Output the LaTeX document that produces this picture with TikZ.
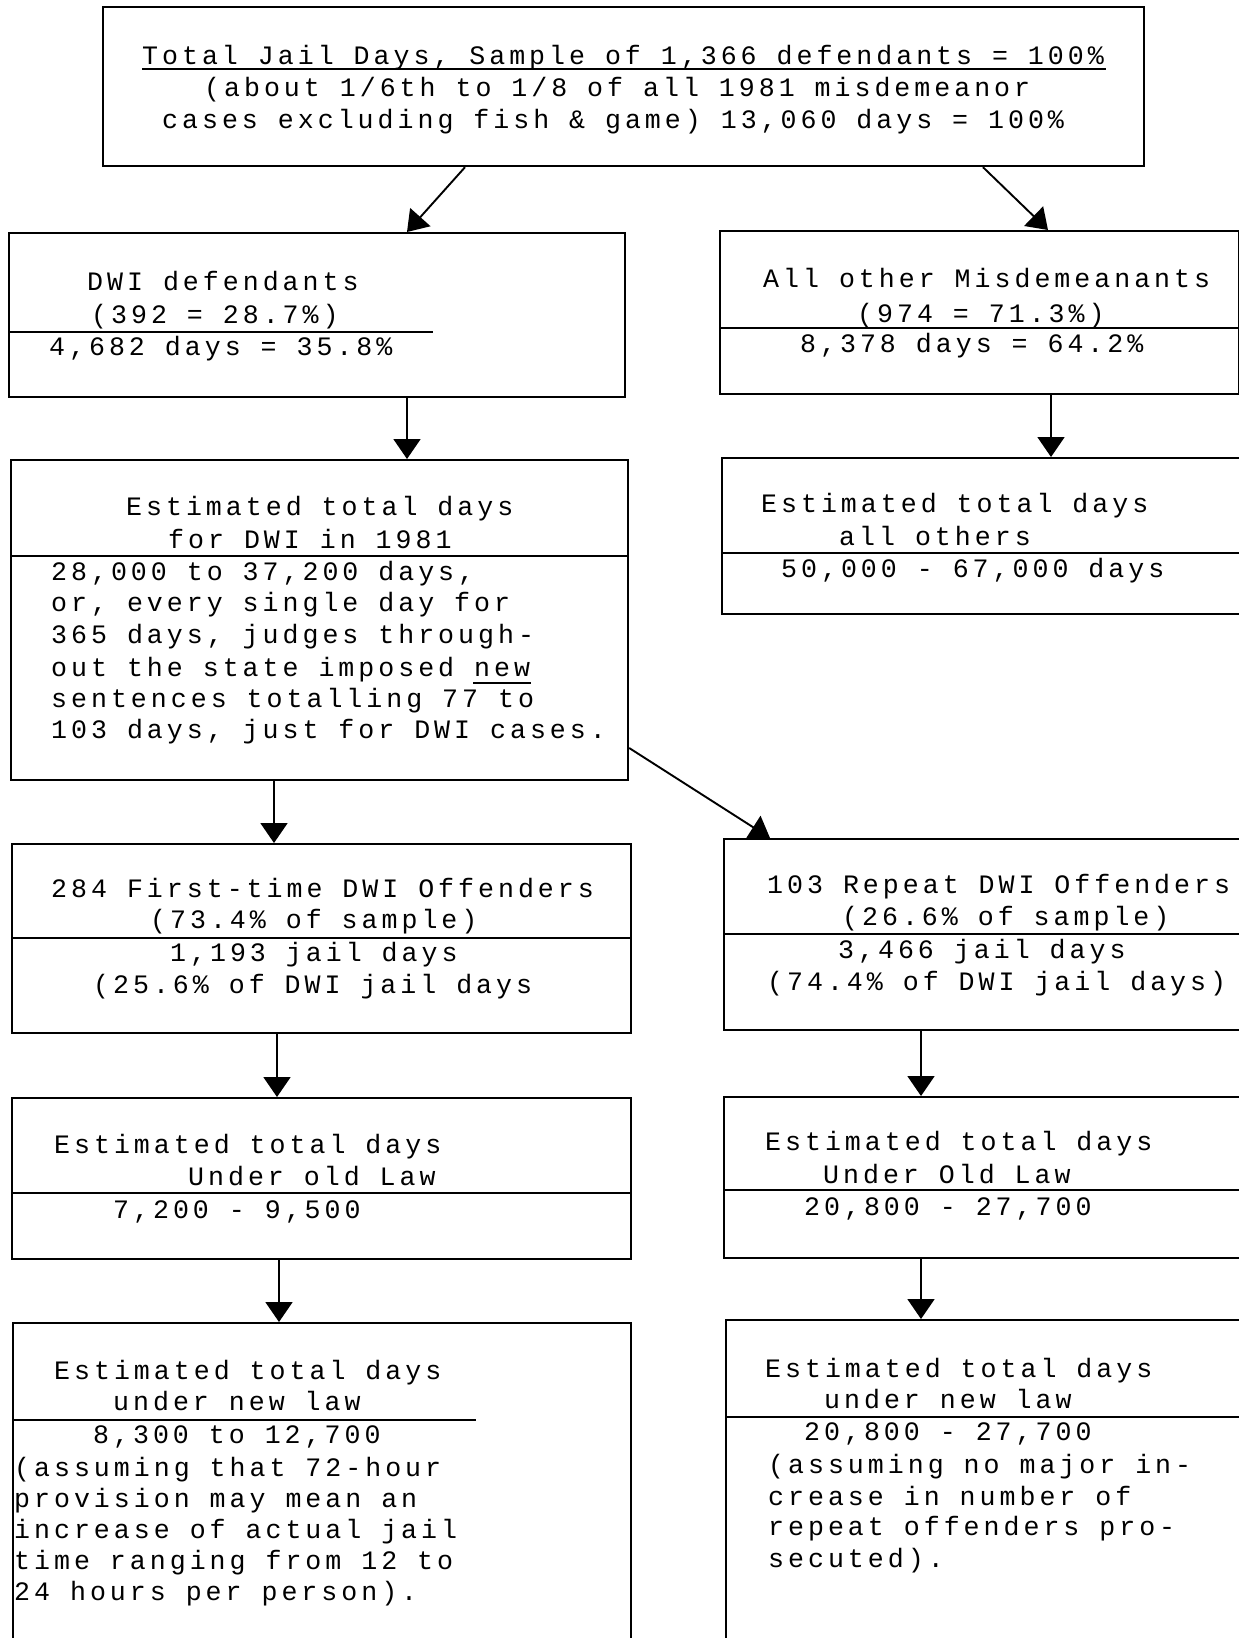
\documentclass[tikz,border=0pt]{standalone}
\usepackage{fontspec}
\newfontfamily\tw[LetterSpace=15.0]{Liberation Mono}
\usetikzlibrary{arrows.meta}
\tikzset{
  box/.style={draw, line width=2.2pt, rectangle, inner sep=0pt, anchor=north west},
  tx/.style={anchor=base west, inner sep=0pt, font=\tw\fontsize{26.6}{30}\selectfont},
  divline/.style={line width=2.6pt},
  uline/.style={line width=2pt},
  arr/.style={line width=1.9pt, -{Triangle[length=20pt,width=27pt]}},
}
\newcommand\txl[4]{\node[tx] (#1) at (#2,#3) {#4};}
\begin{document}
\begin{tikzpicture}[x=1pt,y=-1pt]
\useasboundingbox (0,0) rectangle (1239,1638);
\clip (0,0) rectangle (1239,1638);
\fill[white] (0,0) rectangle (1239,1638);

% boxes
\node[box, minimum width=1041pt, minimum height=159pt] (top) at (102,6) {};
\node[box, minimum width=616pt, minimum height=164pt] (dwi) at (8,232) {};
\node[box, minimum width=519pt, minimum height=163pt] (oth) at (719,230) {};
\node[box, minimum width=617pt, minimum height=320pt] (estd) at (10,459) {};
\node[box, minimum width=550pt, minimum height=156pt] (esto) at (721,457) {};
\node[box, minimum width=619pt, minimum height=189pt] (first) at (11,843) {};
\node[box, minimum width=550pt, minimum height=191pt] (rep) at (723,838) {};
\node[box, minimum width=619pt, minimum height=161pt] (oldl) at (11,1097) {};
\node[box, minimum width=550pt, minimum height=161pt] (oldr) at (723,1096) {};
\node[box, minimum width=618pt, minimum height=360pt] (newl) at (12,1322) {};
\node[box, minimum width=550pt, minimum height=360pt] (newr) at (725,1319) {};

% dividers
\draw[divline] (dwi.west |- 0,332) -- (433,332);
\draw[divline] (oth.west |- 0,328) -- (oth.east |- 0,328);
\draw[divline] (estd.west |- 0,556) -- (estd.east |- 0,556);
\draw[divline] (esto.west |- 0,553) -- (esto.east |- 0,553);
\draw[divline] (first.west |- 0,938) -- (first.east |- 0,938);
\draw[divline] (rep.west |- 0,934) -- (rep.east |- 0,934);
\draw[divline] (oldl.west |- 0,1193) -- (oldl.east |- 0,1193);
\draw[divline] (oldr.west |- 0,1190) -- (oldr.east |- 0,1190);
\draw[divline] (newl.west |- 0,1420) -- (476,1420);
\draw[divline] (newr.west |- 0,1417) -- (newr.east |- 0,1417);

% arrows
\draw[arr] (top.south -| 465,0) -- (dwi.north -| 407,0);
\draw[arr] (top.south -| 983,0) -- (oth.north -| 1048,0);
\draw[arr] (dwi.south -| 407,0) -- (estd.north -| 407,0);
\draw[arr] (oth.south -| 1051,0) -- (esto.north -| 1051,0);
\draw[arr] (estd.south -| 274,0) -- (first.north -| 274,0);
\draw[arr] (estd.east |- 0,748) -- (rep.north -| 770,0);
\draw[arr] (first.south -| 277,0) -- (oldl.north -| 277,0);
\draw[arr] (rep.south -| 921,0) -- (oldr.north -| 921,0);
\draw[arr] (oldl.south -| 279,0) -- (newl.north -| 279,0);
\draw[arr] (oldr.south -| 921,0) -- (newr.north -| 921,0);

% texts: top
\txl{t1}{142}{64}{Total Jail Days, Sample of 1,366 defendants = 100\%}
\txl{t2}{204}{96}{(about 1/6th to 1/8 of all 1981 misdemeanor}
\txl{t3}{162}{128}{cases excluding fish \& game) 13,060 days = 100\%}
\draw[uline] (t1.south west |- 0,69) -- (1106,69);

% dwi
\txl{d1}{87}{290}{DWI defendants}
\txl{d2}{91}{323}{(392 = 28.7\%)}
\txl{d3}{49}{355}{4,682 days = 35.8\%}
% others
\txl{o1}{763}{287}{All other Misdemeanants}
\txl{o2}{857}{322}{(974 = 71.3\%)}
\txl{o3}{800}{352}{8,378 days = 64.2\%}

% estimated dwi
\txl{e1}{126}{515}{Estimated total days}
\txl{e2}{168}{548}{for DWI in 1981}
\txl{e3}{51}{580}{28,000 to 37,200 days,}
\txl{e4}{51}{611}{or, every single day for}
\txl{e5}{51}{643}{365 days, judges through-}
\txl{e6}{51}{676}{out the state imposed new}
\txl{e7}{51}{707}{sentences totalling 77 to}
\txl{e8}{51}{738}{103 days, just for DWI cases.}
\draw[uline] (473,683) -- (531,683);

% estimated others
\txl{f1}{761}{512}{Estimated total days}
\txl{f2}{839}{545}{all others}
\txl{f3}{781}{577}{50,000 - 67,000 days}

% first-time
\txl{g1}{51}{897}{284 First-time DWI Offenders}
\txl{g2}{150}{928}{(73.4\% of sample)}
\txl{g3}{170}{961}{1,193 jail days}
\txl{g4}{93}{993}{(25.6\% of DWI jail days}

% repeat
\txl{h1}{767}{893}{103 Repeat DWI Offenders}
\txl{h2}{842}{925}{(26.6\% of sample)}
\txl{h3}{838}{958}{3,466 jail days}
\txl{h4}{767}{990}{(74.4\% of DWI jail days)}

% old law
\txl{i1}{54}{1153}{Estimated total days}
\txl{i2}{188}{1185}{Under old Law}
\txl{i3}{113}{1218}{7,200 - 9,500}
\txl{j1}{765}{1150}{Estimated total days}
\txl{j2}{823}{1183}{Under Old Law}
\txl{j3}{804}{1215}{20,800 - 27,700}

% new law
\txl{k1}{54}{1379}{Estimated total days}
\txl{k2}{113}{1410}{under new law}
\txl{k3}{93}{1443}{8,300 to 12,700}
\txl{k4}{14}{1476}{(assuming that 72-hour}
\txl{k5}{14}{1507}{provision may mean an}
\txl{k6}{14}{1538}{increase of actual jail}
\txl{k7}{14}{1569}{time ranging from 12 to}
\txl{k8}{14}{1600}{24 hours per person).}
\txl{m1}{765}{1377}{Estimated total days}
\txl{m2}{824}{1408}{under new law}
\txl{m3}{804}{1440}{20,800 - 27,700}
\txl{m4}{768}{1473}{(assuming no major in-}
\txl{m5}{768}{1505}{crease in number of}
\txl{m6}{768}{1535}{repeat offenders pro-}
\txl{m7}{768}{1567}{secuted).}
\end{tikzpicture}
\end{document}
